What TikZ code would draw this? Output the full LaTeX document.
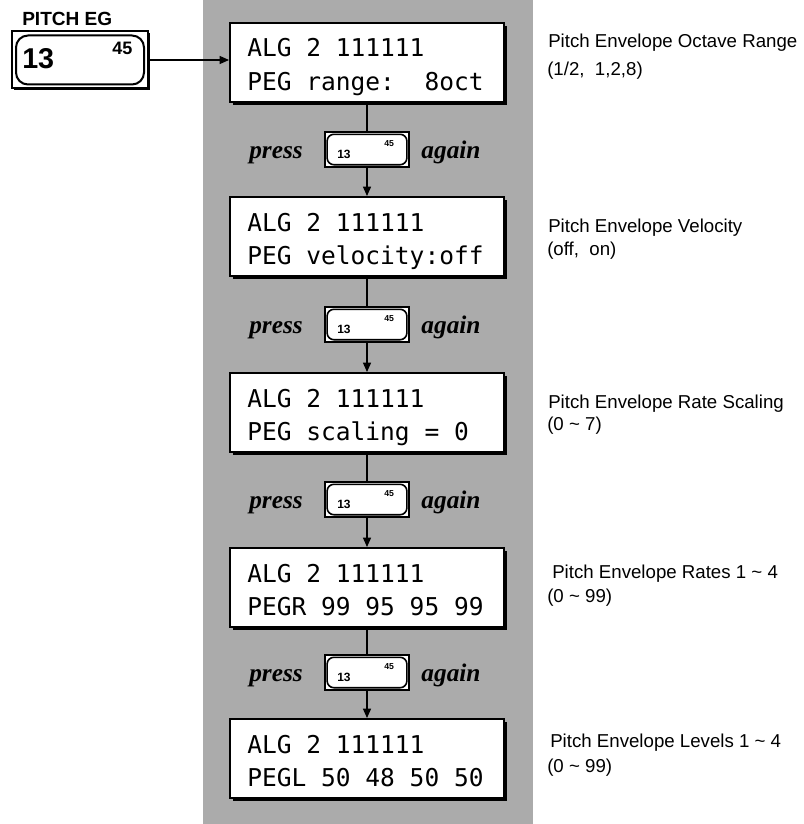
\documentclass[tikz,border=0pt]{standalone}
\usepackage{fontspec}
\setmainfont{Liberation Sans}
\newfontfamily\lcdfont{DejaVu Sans Mono}
\newfontfamily\pressfont{Liberation Serif}
\usetikzlibrary{arrows.meta,shadows}
\begin{document}
\begin{tikzpicture}[x=0.75pt,y=-0.75pt,
  lcdbox/.style={draw, line width=1.5pt, fill=white, minimum width=205.5pt, minimum height=59.25pt, inner sep=0pt,
     drop shadow={shadow xshift=2.25pt, shadow yshift=-2.25pt, opacity=1, fill=black}},
  lcdtext/.style={anchor=base west, inner sep=0pt, font=\lcdfont\fontsize{18.4}{20}\selectfont},
  keybtn/.style={draw, line width=1.3pt, fill=white, minimum width=63pt, minimum height=26pt, inner sep=0pt,
     drop shadow={shadow xshift=1pt, shadow yshift=-1pt, opacity=1, fill=black}},
  keyinner/.style={line width=1.2pt, rounded corners=5pt},
  keynum/.style={anchor=base west, inner sep=0pt, font=\bfseries\fontsize{9}{10}\selectfont},
  keysup/.style={anchor=base west, inner sep=0pt, font=\bfseries\fontsize{6.5}{7}\selectfont},
  side/.style={anchor=base west, inner sep=0pt, font=\fontsize{14}{16}\selectfont},
  pressst/.style={anchor=base, inner sep=0pt, font=\pressfont\bfseries\itshape\fontsize{19}{20}\selectfont},
  conn/.style={line width=1pt},
  arr/.style={conn, -{Triangle[length=7pt,width=6pt]}}
]
\useasboundingbox (0,0) rectangle (803,824);
% shaded column
\fill[black!33] (203,0) rectangle (533,824);

% main button
\node[anchor=base west, inner sep=0pt, font=\bfseries\fontsize{14.3}{16}\selectfont] (title) at (22,26) {PITCH EG};
\node[draw, line width=1.5pt, fill=white, minimum width=102pt, minimum height=42.75pt, inner sep=0pt,
      drop shadow={shadow xshift=1.2pt, shadow yshift=-1.2pt, opacity=1, fill=black}] (mainbtn) at (80,60) {};
\draw[line width=1.5pt, rounded corners=9pt] ([shift={(5,5)}]mainbtn.north west) rectangle ([shift={(-5,-5)}]mainbtn.south east);
\node[anchor=base west, inner sep=0pt, font=\bfseries\fontsize{21.5}{23}\selectfont] (mnum) at (22,69) {13};
\node[anchor=base west, inner sep=0pt, font=\bfseries\fontsize{13.5}{14}\selectfont] (msup) at (112,55) {45};

% LCD boxes
\node[lcdbox] (box1) at (367,62.5) {};
\node[lcdtext] (b1a) at (247,57) {ALG 2 111111};
\node[lcdtext] (b1b) at (247,90) {PEG range:\ \ 8oct};

\node[lcdbox] (box2) at (367,236.5) {};
\node[lcdtext] (b2a) at (247,231) {ALG 2 111111};
\node[lcdtext] (b2b) at (247,264) {PEG velocity:off};

\node[lcdbox] (box3) at (367,412.5) {};
\node[lcdtext] (b3a) at (247,407) {ALG 2 111111};
\node[lcdtext] (b3b) at (247,440) {PEG scaling = 0};

\node[lcdbox] (box4) at (367,587.5) {};
\node[lcdtext] (b4a) at (247,582) {ALG 2 111111};
\node[lcdtext] (b4b) at (247,615) {PEGR 99 95 95 99};

\node[lcdbox] (box5) at (367,758.5) {};
\node[lcdtext] (b5a) at (247,753) {ALG 2 111111};
\node[lcdtext] (b5b) at (247,786) {PEGL 50 48 50 50};

% small buttons
\foreach \i/\t in {1/132, 2/307, 3/482, 4/655}{
  \node[keybtn] (btn\i) at (367,\t+17.5) {};
  \draw[keyinner] ([shift={(3,3)}]btn\i.north west) rectangle ([shift={(-3,-3)}]btn\i.south east);
  \node[keynum] (k\i) at (337,\t+26) {13};
  \node[keysup] (s\i) at (384,\t+14) {45};
  \node[pressst] (p\i) at (276,\t+26) {press};
  \node[pressst] (a\i) at (451,\t+26) {again};
}

% connectors
\draw[arr] (mainbtn.east) -- (mainbtn.east -| box1.west);
\draw[conn] (box1.south) -- (btn1.north);
\draw[arr] (btn1.south) -- (box2.north);
\draw[conn] (box2.south) -- (btn2.north);
\draw[arr] (btn2.south) -- (box3.north);
\draw[conn] (box3.south) -- (btn3.north);
\draw[arr] (btn3.south) -- (box4.north);
\draw[conn] (box4.south) -- (btn4.north);
\draw[arr] (btn4.south) -- (box5.north);

% side descriptions
\node[side] (d1a) at (548,48) {Pitch Envelope Octave Range};
\node[side] (d1b) at (547,75) {(1/2,\ \ 1,2,8)};
\node[side] (d2a) at (548,232) {Pitch Envelope Velocity};
\node[side] (d2b) at (547,255) {(off,\ \ on)};
\node[side] (d3a) at (548,408) {Pitch Envelope Rate Scaling};
\node[side] (d3b) at (547,430) {(0 \textasciitilde{} 7)};
\node[side] (d4a) at (552,578) {Pitch Envelope Rates 1 \textasciitilde{} 4};
\node[side] (d4b) at (547,602) {(0 \textasciitilde{} 99)};
\node[side] (d5a) at (550,747) {Pitch Envelope Levels 1 \textasciitilde{} 4};
\node[side] (d5b) at (547,772) {(0 \textasciitilde{} 99)};
\end{tikzpicture}
\end{document}
